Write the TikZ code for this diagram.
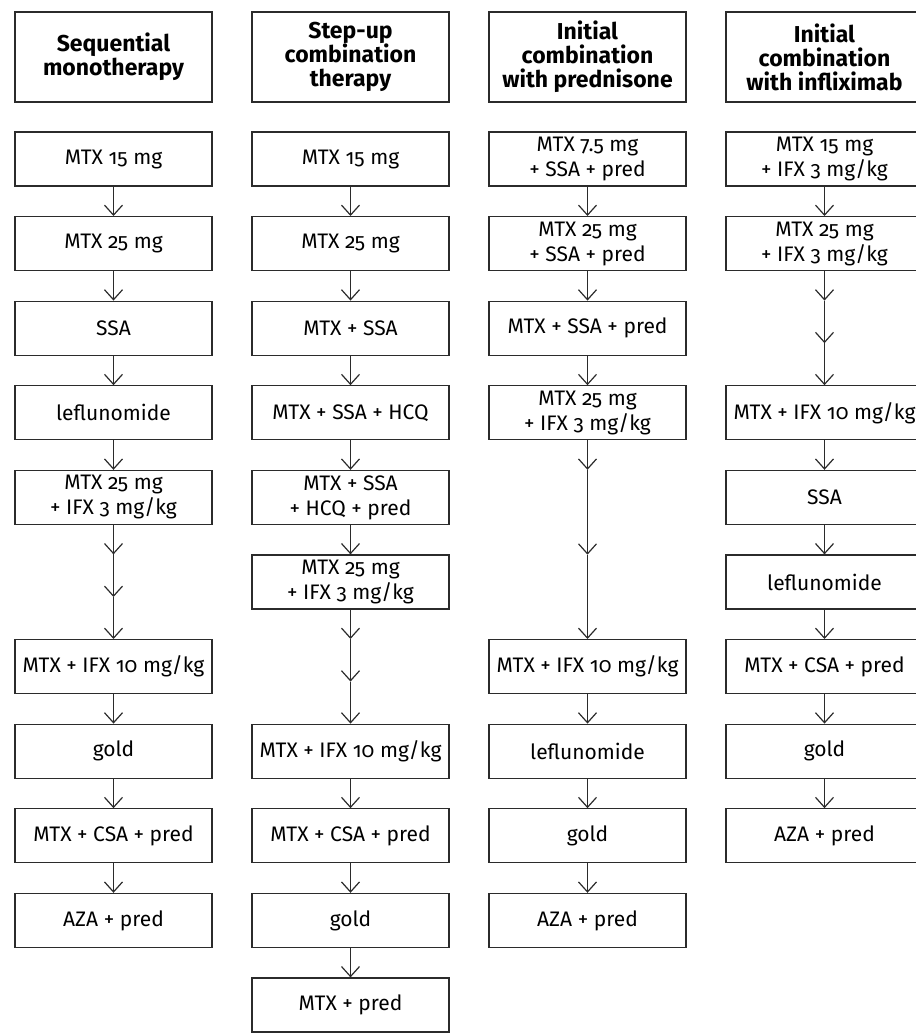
\documentclass[tikz,border=0pt]{standalone}
\usepackage{fontspec}
\setmainfont{Fira Sans}[Numbers=OldStyle]
\usetikzlibrary{arrows.meta}
\definecolor{linegray}{HTML}{2B2B2B}
\tikzset{
  box/.style={draw=linegray, line width=1.2pt, minimum width=197pt, minimum height=54pt,
    inner sep=0pt, align=center, font=\fontsize{21}{25}\selectfont, text=black},
  headbox/.style={box, minimum height=90pt, font=\fontsize{23}{24}\selectfont\bfseries},
  arr/.style={draw=linegray, line width=1.2pt, -{Straight Barb[length=10pt,width=18pt,line width=1.2pt]}}
}
\begin{document}
\begin{tikzpicture}[x=1pt,y=-1pt]
\useasboundingbox (0,0) rectangle (916,1034);
\clip (0,0) rectangle (916,1034);
% column 1
\node[headbox] (h1) at (113.5,57) {Sequential\\monotherapy};
\node[box] (a0) at (113.5,159) {MTX 15 mg};
\node[box] (a1) at (113.5,243.6) {MTX 25 mg};
\node[box] (a2) at (113.5,328.2) {SSA};
\node[box] (a3) at (113.5,412.8) {leflunomide};
\node[box] (a4) at (113.5,497.4) {MTX 25 mg\\+ IFX 3 mg/kg};
\node[box] (a5) at (113.5,666.6) {MTX + IFX 10 mg/kg};
\node[box] (a6) at (113.5,751.2) {gold};
\node[box] (a7) at (113.5,835.8) {MTX + CSA + pred};
\node[box] (a8) at (113.5,920.4) {AZA + pred};
% column 2
\node[headbox] (h2) at (350.5,57) {Step-up\\combination\\therapy};
\node[box] (b0) at (350.5,159) {MTX 15 mg};
\node[box] (b1) at (350.5,243.6) {MTX 25 mg};
\node[box] (b2) at (350.5,328.2) {MTX + SSA};
\node[box] (b3) at (350.5,412.8) {MTX + SSA + HCQ};
\node[box] (b4) at (350.5,497.4) {MTX + SSA\\+ HCQ + pred};
\node[box] (b5) at (350.5,582) {MTX 25 mg\\+ IFX 3 mg/kg};
\node[box] (b6) at (350.5,751.2) {MTX + IFX 10 mg/kg};
\node[box] (b7) at (350.5,835.8) {MTX + CSA + pred};
\node[box] (b8) at (350.5,920.4) {gold};
\node[box] (b9) at (350.5,1005) {MTX + pred};
% column 3
\node[headbox] (h3) at (587.5,57) {Initial\\combination\\with prednisone};
\node[box] (c0) at (587.5,159) {MTX 7.5 mg\\+ SSA + pred};
\node[box] (c1) at (587.5,243.6) {MTX 25 mg\\+ SSA + pred};
\node[box] (c2) at (587.5,328.2) {MTX + SSA + pred};
\node[box] (c3) at (587.5,412.8) {MTX 25 mg\\+ IFX 3 mg/kg};
\node[box] (c4) at (587.5,666.6) {MTX + IFX 10 mg/kg};
\node[box] (c5) at (587.5,751.2) {leflunomide};
\node[box] (c6) at (587.5,835.8) {gold};
\node[box] (c7) at (587.5,920.4) {AZA + pred};
% column 4
\node[headbox] (h4) at (824.5,57) {Initial\\combination\\with infliximab};
\node[box] (d0) at (824.5,159) {MTX 15 mg\\+ IFX 3 mg/kg};
\node[box] (d1) at (824.5,243.6) {MTX 25 mg\\+ IFX 3 mg/kg};
\node[box] (d2) at (824.5,412.8) {MTX + IFX 10 mg/kg};
\node[box] (d3) at (824.5,497.4) {SSA};
\node[box] (d4) at (824.5,582) {leflunomide};
\node[box] (d5) at (824.5,666.6) {MTX + CSA + pred};
\node[box] (d6) at (824.5,751.2) {gold};
\node[box] (d7) at (824.5,835.8) {AZA + pred};
% intermediate arrow heads
\coordinate (am1) at (113.5,554.4);
\coordinate (am2) at (113.5,597);
\coordinate (bm1) at (350.5,639);
\coordinate (bm2) at (350.5,681.6);
\coordinate (cm1) at (587.5,469.8);
\coordinate (cm2) at (587.5,554.7);
\coordinate (dm1) at (824.5,300.6);
\coordinate (dm2) at (824.5,343.2);
% arrows column 1
\foreach \i/\j in {a0/a1,a1/a2,a2/a3,a3/a4,a5/a6,a6/a7,a7/a8}{\draw[arr] (\i.south) -- (\j.north);}
\draw[arr] (a4.south) -- (am1);
\draw[arr] (am1) -- (am2);
\draw[arr] (am2) -- (a5.north);
% arrows column 2
\foreach \i/\j in {b0/b1,b1/b2,b2/b3,b3/b4,b4/b5,b6/b7,b7/b8,b8/b9}{\draw[arr] (\i.south) -- (\j.north);}
\draw[arr] (b5.south) -- (bm1);
\draw[arr] (bm1) -- (bm2);
\draw[arr] (bm2) -- (b6.north);
% arrows column 3
\foreach \i/\j in {c0/c1,c1/c2,c2/c3,c4/c5,c5/c6,c6/c7}{\draw[arr] (\i.south) -- (\j.north);}
\draw[arr] (c3.south) -- (cm1);
\draw[arr] (cm1) -- (cm2);
\draw[arr] (cm2) -- (c4.north);
% arrows column 4
\foreach \i/\j in {d0/d1,d2/d3,d3/d4,d4/d5,d5/d6,d6/d7}{\draw[arr] (\i.south) -- (\j.north);}
\draw[arr] (d1.south) -- (dm1);
\draw[arr] (dm1) -- (dm2);
\draw[arr] (dm2) -- (d2.north);
\end{tikzpicture}
\end{document}
